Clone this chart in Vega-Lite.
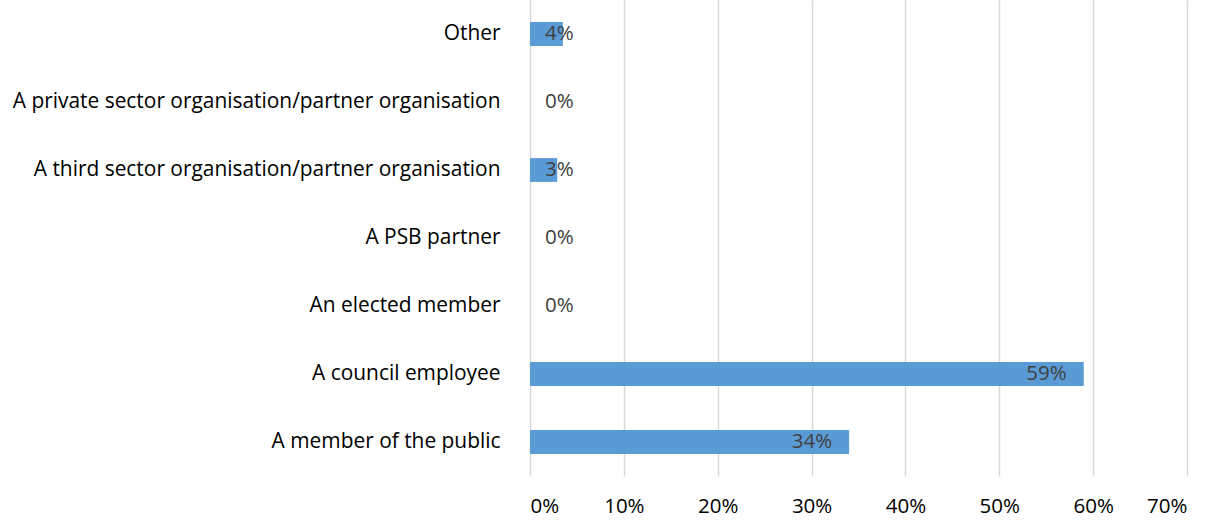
{
  "$schema": "https://vega.github.io/schema/vega-lite/v6.json",
  "width": 657,
  "height": 476,
  "autosize": "none",
  "padding": {"left": 530, "top": 0, "right": 33, "bottom": 47},
  "background": "white",
  "config": {
    "view": {"stroke": null},
    "font": "Open Sans"
  },
  "data": {
    "values": [
      {"category": "Other", "value": 0.035},
      {"category": "A private sector organisation/partner organisation", "value": 0},
      {"category": "A third sector organisation/partner organisation", "value": 0.029},
      {"category": "A PSB partner", "value": 0},
      {"category": "An elected member", "value": 0},
      {"category": "A council employee", "value": 0.59},
      {"category": "A member of the public", "value": 0.34}
    ]
  },
  "encoding": {
    "y": {
      "field": "category",
      "type": "nominal",
      "sort": null,
      "title": null,
      "scale": {"paddingInner": 0.65, "paddingOuter": 0.325},
      "axis": {
        "domain": false,
        "ticks": false,
        "labelPadding": 30,
        "labelFontSize": 20.9,
        "labelColor": "#000000",
        "labelLimit": 600,
        "labelFont": "Open Sans"
      }
    }
  },
  "layer": [
    {
      "mark": {"type": "bar", "color": "#5B9BD5"},
      "encoding": {
        "x": {
          "field": "value",
          "type": "quantitative",
          "title": null,
          "scale": {"domain": [0, 0.7], "nice": false},
          "axis": {
            "format": ".0%",
            "values": [0, 0.1, 0.2, 0.3, 0.4, 0.5, 0.6, 0.7],
            "domain": false,
            "ticks": false,
            "grid": true,
            "gridColor": "#D9D9D9",
            "gridWidth": 1.5,
            "labelPadding": 20,
            "labelFontSize": 20.5,
            "labelColor": "#000000",
            "labelFont": "Open Sans"
          }
        }
      }
    },
    {
      "transform": [{"filter": "datum.value >= 0.1"}],
      "mark": {"type": "text", "align": "right", "baseline": "middle", "dx": -17, "fontSize": 20.5, "color": "#404040", "font": "Open Sans"},
      "encoding": {
        "x": {"field": "value", "type": "quantitative"},
        "text": {"field": "value", "type": "quantitative", "format": ".0%"}
      }
    },
    {
      "transform": [{"filter": "datum.value < 0.1"}],
      "mark": {"type": "text", "align": "left", "baseline": "middle", "dx": 15, "fontSize": 20.5, "color": "#404040", "font": "Open Sans"},
      "encoding": {
        "x": {"datum": 0, "type": "quantitative"},
        "text": {"field": "value", "type": "quantitative", "format": ".0%"}
      }
    }
  ]
}
